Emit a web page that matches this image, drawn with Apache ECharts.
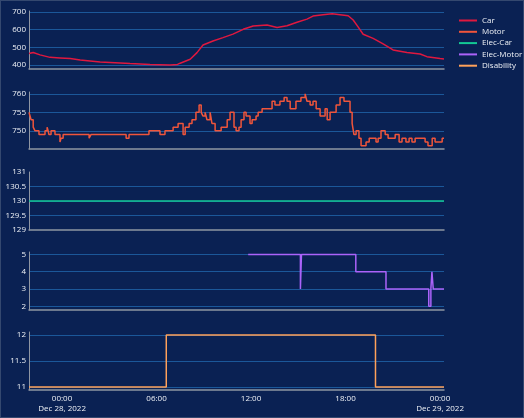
<!DOCTYPE html>
<html>
<head>
<meta charset="utf-8">
<script src="https://cdn.jsdelivr.net/npm/echarts@6/dist/echarts.min.js"></script>
<style>
html, body { margin: 0; padding: 0; background: #0a2153; }
#chart { position: absolute; left: 0; top: 0; width: 524px; height: 418px; }
#frame { position: absolute; left: 0; top: 0; width: 524px; height: 418px; box-sizing: border-box; border: 1px solid #34486f; pointer-events: none; }
</style>
</head>
<body>
<div id="chart"></div>
<div id="frame"></div>
<script>
// minutes from 2022-12-28 00:00
const carMinutes = [-126, -110, -84, -46, -8, 31, 69, 145, 259, 335, 411, 440, 450, 488, 514, 537, 575, 613, 651, 690, 728, 781, 819, 857, 895, 933, 956, 994, 1029, 1059, 1090, 1109, 1127, 1147, 1185, 1223, 1261, 1314, 1364, 1390, 1440, 1455]
const carValues = [465, 471, 457, 443, 440, 437, 428, 417, 408, 403, 400, 403, 410, 432, 470, 513, 536, 555, 575, 602, 621, 626, 613, 622, 642, 660, 677, 685, 690, 685, 679, 655, 617, 574, 551, 519, 485, 470, 462, 447, 436, 434]

const motorMinutes = [-126, -122, -118, -110, -103, -88, -65, -57, -53, -50, -42, -27, -8, -4, 4, 103, 110, 244, 255, 331, 373, 392, 423, 442, 461, 469, 484, 495, 510, 522, 530, 537, 545, 552, 564, 571, 583, 606, 629, 640, 655, 663, 674, 682, 693, 701, 716, 724, 739, 747, 762, 800, 811, 830, 846, 857, 869, 891, 910, 926, 933, 945, 956, 968, 983, 1002, 1010, 1021, 1044, 1059, 1074, 1097, 1105, 1112, 1120, 1131, 1139, 1158, 1170, 1196, 1204, 1215, 1231, 1242, 1269, 1284, 1295, 1310, 1322, 1333, 1345, 1383, 1394, 1410, 1421, 1448, 1455]
const motorValues = [755, 754, 753, 751, 750, 749, 750, 751, 750, 749, 750, 749, 747, 748, 749, 748, 749, 748, 749, 750, 749, 750, 751, 752, 749, 751, 752, 753, 755, 757, 755, 754, 755, 753, 755, 752, 750, 751, 753, 755, 751, 750, 751, 753, 755, 754, 752, 753, 754, 755, 756, 758, 757, 758, 759, 758, 756, 758, 759, 760, 758, 757, 758, 756, 754, 756, 753, 755, 757, 759, 758, 755, 752, 749, 750, 748, 746, 747, 748, 747, 748, 750, 749, 748, 749, 747, 748, 747, 748, 747, 748, 747, 746, 748, 747, 748, 748]

const elecCarMinutes = [-126, 1455]
const elecCarValues = [130, 130]

const elecMotorMinutes = [709, 908, 912, 1119, 1234, 1397, 1405, 1409, 1414, 1455]
const elecMotorValues = [5, 3, 5, 4, 3, 2, 3, 4, 3, 3]

const disabilityMinutes = [-126, 397, 1194, 1455]
const disabilityValues = [11, 12, 11, 11]

const carTicks = [400, 500, 600, 700]
const motorTicks = [750, 755, 760]
const elecCarTicks = [129, 129.5, 130, 130.5, 131]
const elecMotorTicks = [2, 3, 4, 5]
const disabilityTicks = [11, 11.5, 12]

const names = ['Car', 'Motor', 'Elec-Car', 'Elec-Motor', 'Disability']
const colors = ['#e0183f', '#f0553b', '#13c995', '#ab63fa', '#ffa15a']

const START = Date.UTC(2022, 11, 28)
const toTime = m => START + m * 60000
const pairs = (mins, vals) => mins.map((m, i) => [toTime(m), vals[i]])

const seriesData = [
  pairs(carMinutes, carValues),
  pairs(motorMinutes, motorValues),
  pairs(elecCarMinutes, elecCarValues),
  pairs(elecMotorMinutes, elecMotorValues),
  pairs(disabilityMinutes, disabilityValues)
]
const steps = [false, 'end', false, 'end', 'end']

const panels = [
  { top: 11, height: 58, min: 377, max: 706, labels: carTicks, lines: carTicks },
  { top: 92, height: 57, min: 745.1, max: 760.5, labels: motorTicks, lines: motorTicks },
  { top: 172, height: 58, min: 129, max: 131, labels: elecCarTicks, lines: [129.5, 130, 130.5] },
  { top: 252, height: 58, min: 1.79, max: 5.14, labels: elecMotorTicks, lines: elecMotorTicks },
  { top: 332, height: 58, min: 10.94, max: 12.06, labels: disabilityTicks, lines: disabilityTicks }
]

const textColor = '#eef1f6'
const axisGray = '#8f96a3'
const gridBlue = '#1b5799'
const font = '"Open Sans", sans-serif'
const monthNames = ['Jan', 'Feb', 'Mar', 'Apr', 'May', 'Jun', 'Jul', 'Aug', 'Sep', 'Oct', 'Nov', 'Dec']

function timeLabel(value) {
  const d = new Date(value)
  if (d.getUTCMinutes() !== 0 || d.getUTCHours() % 3) return ''
  const hm = String(d.getUTCHours()).padStart(2, '0') + ':00'
  if (d.getUTCHours() !== 0) return hm
  return hm + '\n' + monthNames[d.getUTCMonth()] + ' ' + d.getUTCDate() + ', ' + d.getUTCFullYear()
}

const chart = echarts.init(document.getElementById('chart'))
chart.setOption({
  animation: false,
  useUTC: true,
  backgroundColor: '#0a2153',
  textStyle: { fontFamily: font },
  legend: {
    orient: 'vertical',
    left: 454,
    top: 10,
    icon: 'rect',
    itemWidth: 18,
    itemHeight: 2,
    itemGap: 0.3,
    data: names,
    textStyle: { color: textColor, fontSize: 8, lineHeight: 11, fontFamily: font }
  },
  grid: panels.map(p => ({ left: 29, right: 80, top: p.top, height: p.height, outerBoundsMode: 'none', containLabel: false })),
  xAxis: panels.map((p, i) => ({
    type: 'time',
    gridIndex: i,
    min: toTime(-126),
    max: toTime(1455),
    minInterval: 3 * 3600 * 1000,
    maxInterval: 3 * 3600 * 1000,
    axisLine: { show: true, lineStyle: { color: axisGray, width: 1.5 } },
    axisTick: { show: false },
    splitLine: { show: false },
    axisLabel: {
      show: i === 4,
      color: textColor,
      fontSize: 8,
      lineHeight: 10,
      margin: 4,
      interval: 0,
      hideOverlap: false,
      showMinLabel: true,
      showMaxLabel: true,
      formatter: timeLabel
    }
  })),
  yAxis: panels.map((p, i) => ({
    type: 'value',
    gridIndex: i,
    min: p.min,
    max: p.max,
    axisLine: { show: true, lineStyle: { color: axisGray, width: 1 } },
    axisTick: { show: false, customValues: p.lines },
    axisLabel: { color: textColor, fontSize: 8, margin: 3, customValues: p.labels },
    splitLine: { show: true, lineStyle: { color: gridBlue, width: 1 } }
  })),
  series: names.map((name, i) => ({
    name,
    type: 'line',
    xAxisIndex: i,
    yAxisIndex: i,
    data: seriesData[i],
    step: steps[i],
    showSymbol: false,
    symbol: 'none',
    color: colors[i],
    lineStyle: { color: colors[i], width: 1.5 }
  }))
})
</script>
</body>
</html>
